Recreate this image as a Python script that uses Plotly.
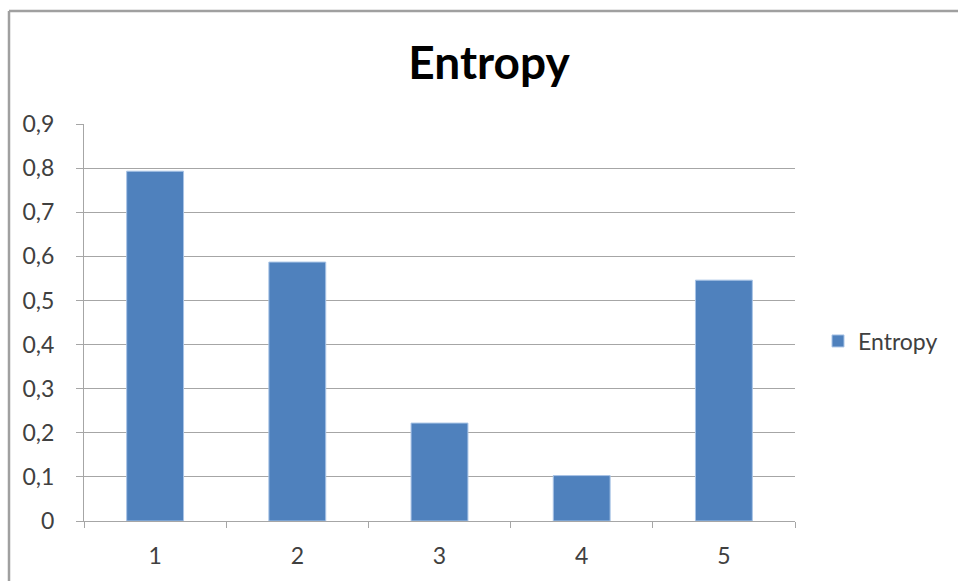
import plotly.graph_objects as go

# Entropy per group
categories = ["1", "2", "3", "4", "5"]
entropy = [0.793, 0.587, 0.222, 0.103, 0.546]
series_name = "Entropy"

W, H = 958, 581
L, R, T, B = 84, 163, 124, 60
pw, ph = W - L - R, H - T - B

BAR = "#4f81bd"
GRID = "#a6a6a6"
TXT = "#404040"
FONT = "Lato"

fig = go.Figure()
fig.add_trace(go.Bar(
    x=categories, y=entropy, name=series_name,
    marker=dict(color=BAR, line=dict(color="#a9c4e6", width=1)),
    showlegend=True,
))

def px_x(p):
    return (p - L) / pw

def px_y(p):
    return (H - B - p) / ph

fig.update_layout(
    width=W, height=H,
    margin=dict(l=L, r=R, t=T, b=B, pad=0, autoexpand=False),
    paper_bgcolor="white", plot_bgcolor="white",
    separators=", ",
    bargap=0.6,
    font=dict(family=FONT, color=TXT, size=22),
    title=dict(
        text="<b>Entropy</b>",
        font=dict(family=FONT, size=46, color="black"),
        x=px_x(489), xref="paper", xanchor="center",
        y=1 - 63 / H, yref="container", yanchor="middle",
    ),
    showlegend=True,
    legend=dict(
        x=px_x(818), xanchor="left", y=px_y(341), yanchor="middle",
        xref="paper", yref="paper",
        font=dict(family=FONT, size=23, color=TXT),
        bgcolor="rgba(0,0,0,0)",
    ),
    xaxis=dict(
        type="category",
        showgrid=False,
        showline=True, linecolor=GRID, linewidth=1,
        ticks="outside", tickson="boundaries", ticklen=6, tickcolor=GRID,
        tickfont=dict(family=FONT, size=23, color=TXT),
        ticklabelstandoff=14,
    ),
    yaxis=dict(
        range=[0, 0.9], dtick=0.1, tick0=0,
        showgrid=True, gridcolor=GRID, gridwidth=1,
        showline=True, linecolor=GRID, linewidth=1,
        ticks="outside", ticklen=7, tickcolor=GRID,
        tickfont=dict(family=FONT, size=23, color=TXT),
        ticklabelstandoff=17,
        zeroline=False,
    ),
    shapes=[
        dict(type="line", xref="paper", yref="paper",
             x0=px_x(9), x1=px_x(W), y0=px_y(11), y1=px_y(11),
             line=dict(color="#a0a0a0", width=2.5)),
        dict(type="line", xref="paper", yref="paper",
             x0=px_x(9), x1=px_x(9), y0=px_y(11), y1=px_y(H + 5),
             line=dict(color="#a0a0a0", width=2.5)),
    ],
)

fig.write_html("out.html")
